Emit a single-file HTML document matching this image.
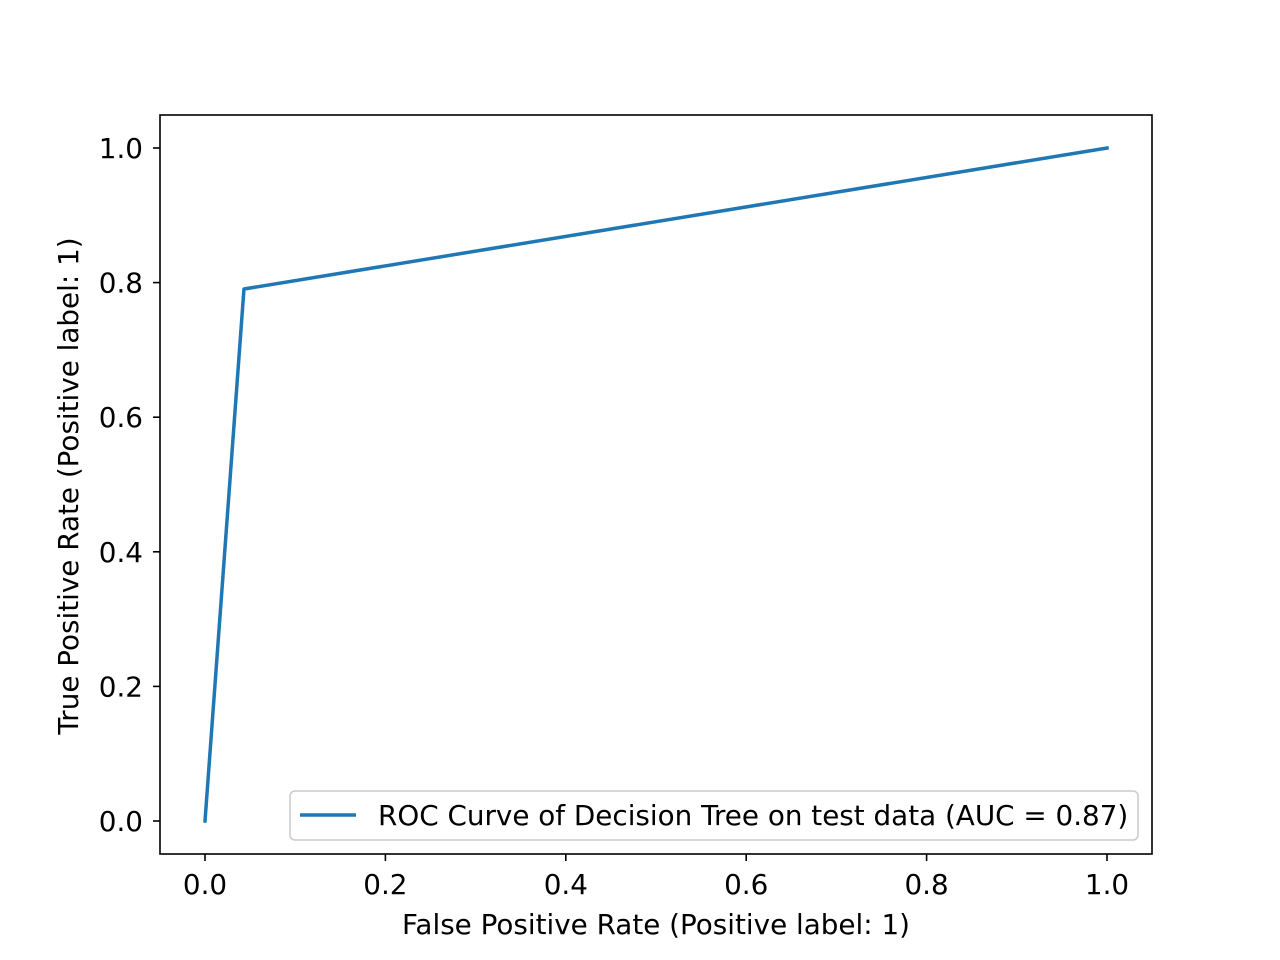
<!DOCTYPE html>
<html><head><meta charset="utf-8"><style>html,body{margin:0;padding:0;background:#fff}svg{display:block}text{font-family:"DejaVu Sans","Liberation Sans",sans-serif;fill:#000}</style></head>
<body>
<svg id="chart" width="1280" height="960" viewBox="0 0 1280 960" xmlns="http://www.w3.org/2000/svg">
<rect width="1280" height="960" fill="#fff"/>
<g id="ticks"></g>
<path id="roc" fill="none" stroke="#1f77b4" stroke-width="3.5" stroke-linejoin="round" stroke-linecap="square"/>
<rect x="160" y="115" width="992" height="739" fill="none" stroke="#000" stroke-width="1.6"/>
<g>
<rect x="290" y="791" width="848" height="49" rx="5" fill="#fff" fill-opacity="0.8" stroke="#ccc" stroke-width="1.6"/>
<line x1="300" y1="815" x2="356" y2="815" stroke="#1f77b4" stroke-width="3.5"/>
<text x="378" y="825" font-size="27.8">ROC Curve of Decision Tree on test data (AUC = 0.87)</text>
</g>
<text x="656" y="934" font-size="27.8" text-anchor="middle">False Positive Rate (Positive label: 1)</text>
<text transform="translate(78,486) rotate(-90)" font-size="27.8" text-anchor="middle">True Positive Rate (Positive label: 1)</text>
</svg>
<script>
const fpr=[0,0.0432,1];
const tpr=[0,0.7905,1];
const xTicks=["0.0","0.2","0.4","0.6","0.8","1.0"];
const yTicks=["0.0","0.2","0.4","0.6","0.8","1.0"];
function X(v){return 205+v*902;}
function Y(v){return 821-v*673;}
const ns="http://www.w3.org/2000/svg";
document.getElementById('roc').setAttribute('d',fpr.map((v,i)=>(i?'L':'M')+X(v)+' '+Y(tpr[i])).join(' '));
const g=document.getElementById('ticks');
xTicks.forEach(t=>{const x=X(parseFloat(t));
const l=document.createElementNS(ns,'line');l.setAttribute('x1',x);l.setAttribute('x2',x);l.setAttribute('y1',854);l.setAttribute('y2',861);l.setAttribute('stroke','#000');l.setAttribute('stroke-width','1.6');


g.appendChild(l);
const tx=document.createElementNS(ns,'text');tx.setAttribute('x',x);tx.setAttribute('y',894);tx.setAttribute('font-size','27.8');tx.setAttribute('text-anchor','middle');tx.textContent=t;


g.appendChild(tx);});
yTicks.forEach(t=>{const y=Y(parseFloat(t));
const l=document.createElementNS(ns,'line');l.setAttribute('x1',153);l.setAttribute('x2',160);l.setAttribute('y1',y);l.setAttribute('y2',y);l.setAttribute('stroke','#000');l.setAttribute('stroke-width','1.6');


g.appendChild(l);
const tx=document.createElementNS(ns,'text');tx.setAttribute('x',143);tx.setAttribute('y',y+10);tx.setAttribute('font-size','27.8');tx.setAttribute('text-anchor','end');tx.textContent=t;


g.appendChild(tx);});
</script>
</body></html>
